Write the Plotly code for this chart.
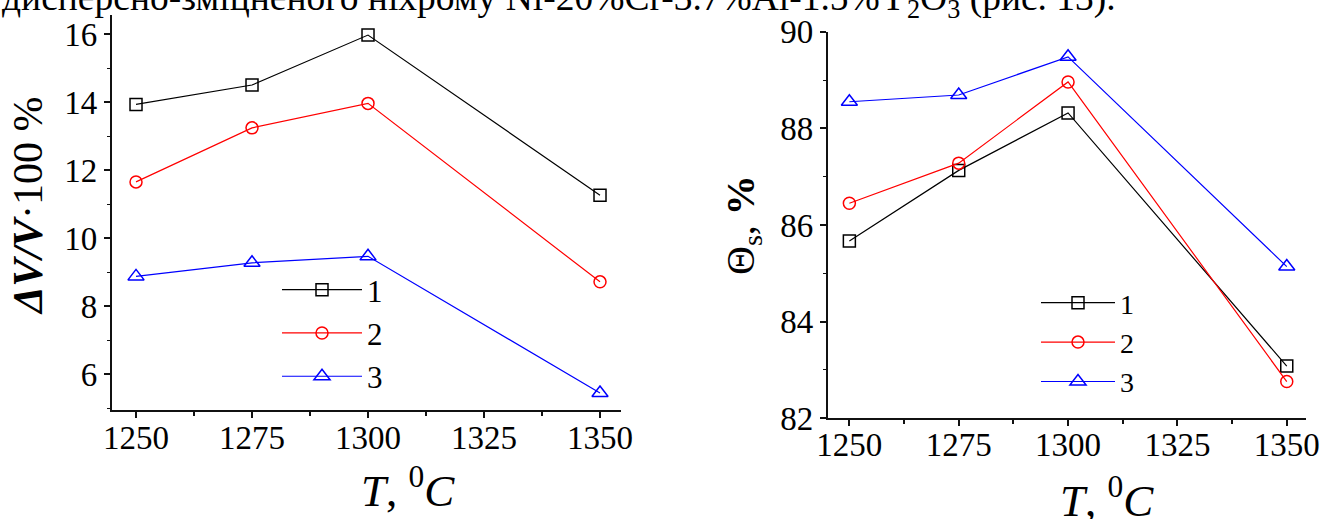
import plotly.graph_objects as go

W, H = 1320, 519

temps = [1250, 1275, 1300, 1350]
dv_1 = [13.94, 14.51, 15.98, 11.27]
dv_2 = [11.66, 13.25, 13.97, 8.72]
dv_3 = [8.88, 9.28, 9.47, 5.45]
th_1 = [85.67, 87.13, 88.32, 83.08]
th_2 = [86.45, 87.28, 88.96, 82.76]
th_3 = [88.55, 88.69, 89.48, 85.14]
series_names = ["1", "2", "3"]
colors = ["#000000", "#ff0000", "#0000ff"]
symbols = ["square-open", "circle-open", "triangle-up-open"]
msizes = [12, 12, 14]

FONT = "Liberation Serif"

def px_x(p):
    return p / W

def px_y(p):
    return 1 - p / H

fig = go.Figure()

for i, ys in enumerate([dv_1, dv_2, dv_3]):
    fig.add_trace(go.Scatter(
        x=temps, y=ys, name=series_names[i], mode="lines+markers",
        line=dict(color=colors[i], width=1.2),
        marker=dict(symbol=symbols[i], size=msizes[i], color=colors[i], line=dict(width=1.5, color=colors[i])),
        xaxis="x", yaxis="y", legend="legend"))

for i, ys in enumerate([th_1, th_2, th_3]):
    fig.add_trace(go.Scatter(
        x=temps, y=ys, name=series_names[i], mode="lines+markers",
        line=dict(color=colors[i], width=1.2),
        marker=dict(symbol=symbols[i], size=msizes[i], color=colors[i], line=dict(width=1.5, color=colors[i])),
        xaxis="x2", yaxis="y2", legend="legend2"))

axis_common = dict(
    showgrid=False, zeroline=False, showline=True, linecolor="#111", linewidth=1.5,
    ticks="outside", ticklen=6, tickwidth=1.5, tickcolor="#111",
    tickfont=dict(family=FONT, size=33, color="#000"),
    mirror=False, automargin=False,
)

fig.update_layout(
    width=W, height=H,
    margin=dict(l=0, r=0, t=0, b=0, autoexpand=False),
    paper_bgcolor="white", plot_bgcolor="white",
    font=dict(family=FONT, color="#000"),
    showlegend=True,
    xaxis=dict(domain=[px_x(111.7), px_x(620.7)], range=[1244.76, 1354.46],
               tickvals=[1250, 1275, 1300, 1325, 1350], ticklabelstandoff=-8,
               minor=dict(tickvals=[1262.5, 1287.5, 1312.5, 1337.5], ticklen=4, tickwidth=1.5, tickcolor="#111", ticks="outside"),
               anchor="y", **axis_common),
    yaxis=dict(domain=[px_y(410), px_y(15)], range=[4.95, 16.57],
               tickvals=[6, 8, 10, 12, 14, 16],
               minor=dict(tickvals=[5, 7, 9, 11, 13, 15], ticklen=3, tickwidth=1.2, tickcolor="#111", ticks="outside"),
               anchor="x", **axis_common),
    xaxis2=dict(domain=[px_x(827.5), px_x(1306)], range=[1245.0, 1354.4],
                tickvals=[1250, 1275, 1300, 1325, 1350], ticklabelstandoff=-10,
                minor=dict(tickvals=[1262.5, 1287.5, 1312.5, 1337.5], ticklen=4, tickwidth=1.5, tickcolor="#111", ticks="outside"),
                anchor="y2", **axis_common),
    yaxis2=dict(domain=[px_y(418.3), px_y(31.7)], range=[82, 90],
                tickvals=[82, 84, 86, 88, 90],
                minor=dict(tickvals=[83, 85, 87, 89], ticklen=3, tickwidth=1.2, tickcolor="#111", ticks="outside"),
                anchor="x2", **axis_common),
    legend=dict(x=px_x(277), y=px_y(263), xanchor="left", yanchor="top",
                font=dict(family=FONT, size=31, color="#000"),
                bgcolor="rgba(0,0,0,0)", itemwidth=80, tracegroupgap=0, itemsizing="trace"),
    legend2=dict(x=px_x(1036), y=px_y(278), xanchor="left", yanchor="top",
                 font=dict(family=FONT, size=28, color="#000"),
                 bgcolor="rgba(0,0,0,0)", itemwidth=74, tracegroupgap=0, itemsizing="trace"),
)

annotations = [
    dict(text="дисперсно-зміцненого ніхрому Ni-20%Cr-3.7%Al-1.5%Y<sub>2</sub>O<sub>3</sub> (рис. 13).",
         x=0, y=px_y(26), xref="paper", yref="paper", xanchor="left", yanchor="bottom",
         showarrow=False, font=dict(family=FONT, size=37.5, color="#000")),
    dict(text="<b><i>ΔV/V</i></b>·100 %", x=px_x(28), y=px_y(206), xref="paper", yref="paper",
         xanchor="center", yanchor="middle", textangle=-90, showarrow=False,
         font=dict(family=FONT, size=42, color="#000")),
    dict(text="Θ<sub>s</sub>, <b>%</b>", x=px_x(743), y=px_y(225), xref="paper", yref="paper",
         xanchor="center", yanchor="middle", textangle=-90, showarrow=False,
         font=dict(family=FONT, size=40, color="#000")),
    dict(text="<i>T</i>, <sup>0</sup><i>C</i>", x=px_x(408), y=px_y(487), xref="paper", yref="paper",
         xanchor="center", yanchor="middle", showarrow=False,
         font=dict(family=FONT, size=45, color="#000")),
    dict(text="<i>T</i>, <sup>0</sup><i>C</i>", x=px_x(1107), y=px_y(497), xref="paper", yref="paper",
         xanchor="center", yanchor="middle", showarrow=False,
         font=dict(family=FONT, size=45, color="#000")),
]
fig.update_layout(annotations=annotations)

fig.write_html("out.html")
